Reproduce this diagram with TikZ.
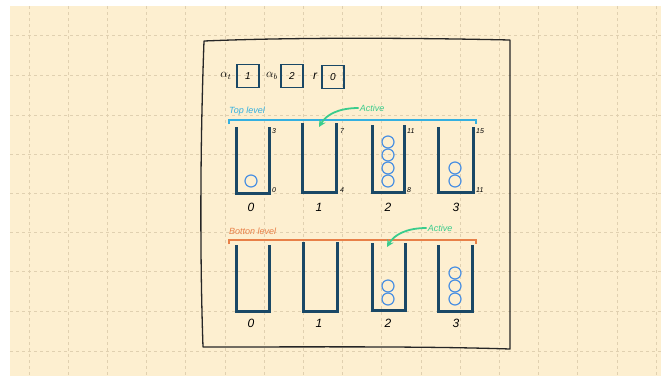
\documentclass[tikz,border=0pt]{standalone}
\usepackage{fontspec}
\setmainfont{Liberation Sans}
\usetikzlibrary{arrows.meta}
\definecolor{bg}{RGB}{253,239,208}
\definecolor{gridc}{RGB}{224,208,176}
\definecolor{navy}{RGB}{26,72,102}
\definecolor{ball}{RGB}{74,144,226}
\definecolor{topc}{RGB}{52,176,224}
\definecolor{botc}{RGB}{232,128,72}
\definecolor{act}{RGB}{58,204,140}
\tikzset{
  gridline/.style={gridc, dashed, line width=0.6pt},
  frameline/.style={black!85, line width=1.3pt, line join=round},
  valbox/.style={draw=navy, line width=1.3pt, minimum width=22pt, minimum height=23pt, inner sep=0pt, font=\itshape},
  varlab/.style={font=\itshape\large, inner sep=1pt},
  wall/.style={navy, line width=3pt, line join=miter},
  ballc/.style={draw=ball, line width=1.2pt, circle, minimum size=12pt, inner sep=0pt},
  idx/.style={font=\itshape\large, inner sep=1pt},
  bnd/.style={font=\itshape\scriptsize, inner sep=1pt, anchor=west},
  levlab/.style={font=\itshape\small, inner sep=1pt, anchor=west},
  actlab/.style={act, font=\itshape\small, inner sep=1pt},
  actarrow/.style={act, line width=1.8pt, -{Stealth[length=7pt,width=7pt]}}
}
\begin{document}
\begin{tikzpicture}[x=1pt,y=-1pt]
\useasboundingbox (0,0) rectangle (661,376);
\fill[white] (0,0) rectangle (661,376);
\fill[bg] (10,6) rectangle (661,376);
% grid
\foreach \i in {0,...,16} \draw[gridline] ({29+39.19*\i},6) -- ({29+39.19*\i},376);
\foreach \y in {35,75,115,154,193,232,271,311,351} \draw[gridline] (10,\y) -- (661,\y);
% frame
\draw[frameline] (204,41) .. controls (300,37) and (420,38) .. (510,40)
  -- (510,349) .. controls (420,346) and (300,347) .. (203,347)
  .. controls (200,260) and (200,150) .. (204,41) -- cycle;
% top variables
\node[varlab] (at) at (226,76) {$\alpha_t$};
\node[valbox] (vat) at (248,76) {1};
\node[varlab] (ab) at (272,76) {$\alpha_b$};
\node[valbox] (vab) at (292,76) {2};
\node[varlab] (r) at (315,76) {\textit{r}};
\node[valbox] (vr) at (333,77) {0};
% top level
\node[levlab, topc] (toplab) at (228,111) {Top level};
\draw[topc, line width=1.5pt] (229,124) -- (229,120) -- (476,120) -- (476,124);
\node[actlab] (act1) at (372,108) {Active};
\coordinate (act1tip) at (319,127);
\draw[actarrow] (act1.west) .. controls (338,108) and (326,115) .. (act1tip);
% top buckets
\draw[wall] (236,127) -- (236,193) -- (269,193) -- (269,127);
\draw[wall] (302,123) -- (302,192) -- (336,192) -- (336,123);
\draw[wall] (372,125) -- (372,192) -- (404,192) -- (404,125);
\draw[wall] (438,127) -- (438,192) -- (473,192) -- (473,127);
\node[bnd] (t0a) at (271,131) {3};
\node[bnd] (t0b) at (271,190) {0};
\node[bnd] (t1a) at (339,131) {7};
\node[bnd] (t1b) at (339,190) {4};
\node[bnd] (t2a) at (406,131) {11};
\node[bnd] (t2b) at (406,190) {8};
\node[bnd] (t3a) at (475,131) {15};
\node[bnd] (t3b) at (475,190) {11};
\node[idx] (ti0) at (251,207) {0};
\node[idx] (ti1) at (319,207) {1};
\node[idx] (ti2) at (388,207) {2};
\node[idx] (ti3) at (456,207) {3};
\node[ballc] (tb01) at (251,181) {};
\node[ballc] (tb21) at (388,181) {};
\node[ballc] (tb22) at (388,168) {};
\node[ballc] (tb23) at (388,155) {};
\node[ballc] (tb24) at (388,142) {};
\node[ballc] (tb31) at (455,181) {};
\node[ballc] (tb32) at (455,168) {};
% bottom level
\node[levlab, botc] (botlab) at (228,231) {Botton level};
\draw[botc, line width=1.5pt] (229,244) -- (229,240) -- (476,240) -- (476,244);
\node[actlab] (act2) at (440,228) {Active};
\coordinate (act2tip) at (387,247);
\draw[actarrow] (act2.west) .. controls (406,228) and (394,235) .. (act2tip);
% bottom buckets
\draw[wall] (236,245) -- (236,311) -- (269,311) -- (269,245);
\draw[wall] (303,242) -- (303,311) -- (337,311) -- (337,242);
\draw[wall] (372,243) -- (372,310) -- (405,310) -- (405,243);
\draw[wall] (438,245) -- (438,311) -- (472,311) -- (472,245);
\node[idx] (bi0) at (251,323) {0};
\node[idx] (bi1) at (319,323) {1};
\node[idx] (bi2) at (388,323) {2};
\node[idx] (bi3) at (456,323) {3};
\node[ballc] (bb21) at (388,299) {};
\node[ballc] (bb22) at (388,286) {};
\node[ballc] (bb31) at (455,299) {};
\node[ballc] (bb32) at (455,286) {};
\node[ballc] (bb33) at (455,273) {};
\end{tikzpicture}
\end{document}
